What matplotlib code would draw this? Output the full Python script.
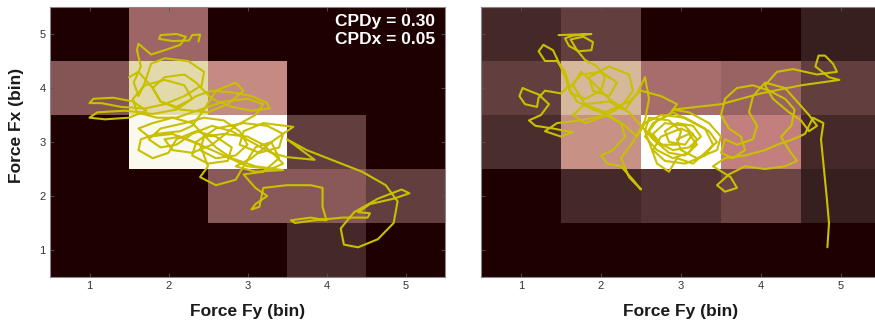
import numpy as np
import matplotlib
matplotlib.use("Agg")
import matplotlib.pyplot as plt

plt.rcParams['font.family'] = ['Liberation Sans', 'DejaVu Sans']

# bins
fy_bins = [1, 2, 3, 4, 5]
fx_bins = [1, 2, 3, 4, 5]

# occupancy (rows: Fx = 1..5, cols: Fy = 1..5), normalized
left_map = [
    [0.00, 0.00, 0.00, 0.04, 0.00],
    [0.00, 0.00, 0.18, 0.18, 0.09],
    [0.00, 0.93, 1.00, 0.09, 0.00],
    [0.17, 0.68, 0.40, 0.00, 0.00],
    [0.00, 0.24, 0.00, 0.00, 0.00],
]
right_map = [
    [0.00, 0.00, 0.00, 0.00, 0.00],
    [0.00, 0.04, 0.06, 0.11, 0.025],
    [0.05, 0.42, 1.00, 0.37, 0.04],
    [0.09, 0.55, 0.27, 0.23, 0.09],
    [0.04, 0.09, 0.00, 0.00, 0.025],
]

# trajectories (Fy, Fx) in bin units
left_fy = [2.38, 2.40, 2.30, 2.26, 2.05, 1.88, 1.90, 2.10, 2.22, 2.15, 1.95, 1.78, 1.62, 1.60, 1.65,
           1.56, 1.62, 1.70, 1.78, 1.95, 2.25, 2.45, 2.42, 2.20, 1.95, 1.70, 1.40, 1.15, 1.00, 1.05,
           1.30, 1.55, 1.72, 1.50, 1.20, 1.00, 1.10, 1.45, 1.80, 2.10, 2.35, 2.55, 2.80, 3.05, 3.25,
           3.28, 3.05, 2.80, 2.55, 2.35, 2.20, 1.95, 1.80, 1.90, 2.15, 2.50, 2.75, 2.95, 2.85, 2.60,
           2.45, 2.30, 2.15, 1.85, 1.65, 1.62, 1.80, 2.00, 2.10, 2.35, 2.60, 2.80, 2.75, 2.50, 2.30,
           2.35, 2.60, 2.95, 3.25, 3.45, 3.40, 3.15, 2.90, 2.95, 3.20, 3.58, 3.35, 3.05, 2.85, 3.10,
           3.45, 3.10, 2.80, 2.60, 2.30, 2.05, 1.80, 1.62, 1.75, 2.05, 2.40, 2.50, 2.40, 2.60, 2.85,
           2.95, 3.10, 3.30, 3.40, 3.20, 2.95, 3.10, 3.25, 3.10, 3.05, 3.15, 3.20, 3.50, 3.80, 3.95,
           3.95, 4.00, 3.80, 3.55, 3.60, 3.85, 4.20, 4.52, 4.55, 4.40, 4.55, 4.85, 5.05, 4.95, 4.65,
           4.35, 4.18, 4.22, 4.40, 4.65, 4.85, 4.90, 4.75, 4.45, 4.10, 3.75, 3.50, 3.85, 3.50,
           3.30, 3.05, 2.80, 2.55, 2.30, 2.10, 1.90, 1.75, 1.90, 2.20, 2.45, 2.70, 2.90, 3.00, 2.85,
           2.60, 2.40, 2.45, 2.70, 3.00, 3.20, 3.35, 3.45, 3.30, 3.00, 2.70, 2.40, 2.15, 1.95, 2.05,
           2.30, 2.55, 2.85, 3.10, 3.20, 3.00, 2.70, 2.40, 2.10, 1.85, 1.60, 1.55, 1.70, 1.95, 2.20,
           2.30, 2.10, 1.90, 1.80, 1.62, 1.50]
left_fx = [4.86, 4.99, 4.98, 4.88, 4.87, 4.91, 4.98, 5.00, 4.95, 4.80, 4.70, 4.62, 4.82, 4.70, 4.40,
           4.10, 3.85, 4.10, 4.45, 4.55, 4.50, 4.30, 4.05, 3.85, 3.70, 3.62, 3.65, 3.72, 3.72, 3.80,
           3.82, 3.75, 3.58, 3.45, 3.42, 3.45, 3.55, 3.58, 3.52, 3.60, 3.85, 3.95, 3.92, 3.85, 3.72,
           3.62, 3.58, 3.65, 3.80, 4.10, 4.25, 4.20, 4.00, 3.75, 3.60, 3.55, 3.70, 3.95, 4.10, 3.95,
           3.60, 3.30, 3.20, 3.15, 3.05, 2.85, 2.70, 2.80, 3.05, 3.20, 3.10, 2.90, 2.65, 2.60, 2.75,
           3.00, 3.25, 3.35, 3.30, 3.15, 2.90, 2.80, 2.95, 3.20, 3.35, 3.28, 3.05, 2.70, 2.55, 2.45,
           2.48, 2.55, 2.70, 2.90, 3.35, 3.45, 3.35, 3.25, 3.10, 3.15, 2.95, 2.55, 2.35, 2.20, 2.30,
           2.55, 2.90, 3.00, 2.70, 2.45, 2.40, 2.15, 2.00, 1.85, 1.75, 1.80, 2.15, 2.20, 2.20, 2.15,
           1.80, 1.55, 1.60, 1.55, 1.50, 1.55, 1.60, 1.60, 1.68, 1.70, 1.85, 1.95, 2.05, 2.12, 1.95,
           1.70, 1.40, 1.10, 1.05, 1.20, 1.50, 1.90, 2.20, 2.45, 2.65, 2.85, 3.05, 2.67, 2.72,
           2.80, 3.00, 3.20, 3.30, 3.15, 2.95, 2.90, 3.05, 3.25, 3.35, 3.45, 3.40, 3.20, 2.95, 2.75,
           2.70, 2.85, 3.10, 3.15, 3.10, 2.95, 2.75, 2.60, 2.50, 2.55, 2.75, 2.95, 3.10, 3.05, 2.85,
           2.80, 2.95, 3.30, 3.50, 3.70, 3.80, 3.75, 3.60, 3.45, 3.45, 3.55, 3.80, 4.05, 4.15, 4.05,
           3.80, 3.65, 3.75, 4.00, 4.30, 4.20]

right_fy_a = [1.47, 1.88, 1.65, 1.55, 1.60, 1.72, 1.88, 1.90, 1.78, 1.62, 1.70, 1.80, 1.95, 2.05, 2.00,
              1.80, 1.62, 1.55, 1.48, 1.40, 1.28, 1.22, 1.30, 1.45, 1.55, 1.60, 1.50, 1.30, 1.22, 1.20,
              1.05, 0.98, 1.02, 1.10, 1.22, 1.35, 1.25, 1.10, 1.18, 1.40, 1.65, 1.50, 1.30, 1.45, 1.75,
              2.05, 2.25, 2.30, 2.15, 2.00, 2.08, 2.25, 2.40, 2.50, 2.35, 2.25, 2.40, 2.55, 2.60, 2.55,
              2.45, 2.30, 2.10, 1.90, 1.75, 1.65, 1.80, 2.05, 2.35, 2.50, 2.75, 2.95, 2.85, 2.65, 2.55,
              2.70, 2.90, 3.10, 3.20, 3.05, 2.80, 2.65, 2.75, 2.95, 3.00, 2.85, 2.60, 2.55, 2.70, 2.85,
              2.95, 3.15, 3.30, 3.45, 3.35, 3.10, 2.90]
right_fx_a = [4.98, 5.00, 4.97, 4.92, 4.78, 4.68, 4.70, 4.85, 4.95, 4.90, 4.70, 4.52, 4.40, 4.20, 3.95,
              3.80, 3.90, 4.20, 4.45, 4.70, 4.80, 4.68, 4.50, 4.50, 4.30, 4.05, 3.90, 3.95, 3.82, 3.65,
              3.70, 3.85, 4.00, 3.95, 3.88, 3.70, 3.50, 3.40, 3.30, 3.25, 3.18, 3.10, 3.20, 3.35, 3.40,
              3.50, 3.35, 3.10, 2.85, 2.75, 2.60, 2.55, 2.30, 2.12, 2.35, 2.70, 3.00, 3.40, 3.80, 4.20,
              3.90, 3.60, 3.80, 4.10, 4.30, 4.05, 3.70, 3.55, 3.75, 3.95, 3.85, 3.70, 3.50, 3.35, 3.10,
              2.85, 2.70, 2.80, 3.05, 3.30, 3.35, 3.15, 2.95, 2.95, 3.20, 3.40, 3.45, 3.20, 2.60, 2.45,
              2.70, 2.60, 2.80, 3.00, 3.20, 3.40, 3.55]
right_fy_m = [2.70, 2.60, 2.70, 2.90, 3.10, 3.25, 3.15, 2.95, 2.80, 2.85, 3.05, 3.15, 3.00, 2.75, 2.65,
              2.80, 3.05, 3.30, 3.40, 3.30, 3.05, 2.75, 2.55, 2.45, 2.30, 2.10, 1.90, 1.70, 1.60, 1.75,
              2.00, 2.20, 2.10, 1.90, 1.85, 2.10, 2.35, 2.40, 2.25, 2.00, 1.80, 1.65, 1.80, 2.10, 2.35,
              2.50, 2.65, 2.85, 3.05, 3.20, 3.10, 2.95, 3.00, 3.20, 3.45, 3.50, 3.35, 3.10, 2.90]
right_fx_m = [3.40, 3.20, 3.00, 2.85, 2.90, 3.10, 3.30, 3.35, 3.20, 3.00, 2.95, 3.15, 3.25, 3.10, 2.85,
              2.65, 2.60, 2.75, 2.95, 3.25, 3.45, 3.50, 3.35, 3.10, 3.30, 3.50, 3.60, 3.75, 4.00, 4.25,
              4.30, 4.10, 3.85, 3.95, 4.20, 4.40, 4.25, 3.95, 3.65, 3.45, 3.35, 3.50, 3.70, 3.75, 3.55,
              3.30, 3.05, 2.80, 2.75, 2.95, 3.15, 3.05, 2.85, 2.70, 2.85, 3.10, 3.35, 3.55, 3.60]
right_fy_b = [3.50, 4.00, 4.50, 4.98, 4.85, 4.68, 4.72, 4.80,
              4.90, 4.95, 4.70, 4.40, 4.20, 4.05, 4.15, 4.35, 4.50, 4.60, 4.70, 4.60, 4.45, 4.30, 4.05,
              3.90, 3.85, 3.95, 3.90, 3.70, 3.55, 3.50, 3.65, 3.80, 3.75, 3.60, 3.50, 3.55, 3.70, 3.90,
              4.10, 4.30, 4.42, 4.38, 4.25, 4.35, 4.45, 4.30, 4.05, 3.80, 3.60, 3.45, 3.55, 3.70, 3.62,
              3.40, 3.55, 3.80, 4.05, 4.20, 4.40, 4.55, 4.65, 4.78, 4.75, 4.78, 4.82, 4.85, 4.83]
right_fx_b = [3.70, 3.90, 4.05, 4.15, 4.20, 4.40, 4.60, 4.60,
              4.45, 4.30, 4.25, 4.35, 4.30, 4.05, 3.80, 3.55, 3.40, 3.20, 3.30, 3.50, 3.75, 4.00, 4.10,
              3.85, 3.55, 3.30, 3.05, 2.95, 3.05, 2.80, 2.70, 2.85, 3.10, 3.25, 3.50, 3.80, 4.00, 4.05,
              3.95, 3.80, 3.60, 3.30, 3.10, 2.85, 2.65, 2.55, 2.50, 2.55, 2.40, 2.20, 2.08, 2.15, 2.35,
              2.55, 2.70, 2.75, 2.85, 2.95, 3.05, 3.15, 3.45, 3.35, 3.05, 2.60, 2.00, 1.50, 1.05]

right_fy = right_fy_a + right_fy_m + right_fy_b
right_fx = right_fx_a + right_fx_m + right_fx_b

cpd_text = "CPDy = 0.30\nCPDx = 0.05"
xlabel = "Force Fy (bin)"
ylabel = "Force Fx (bin)"

traj_color = "#c8c000"

fig = plt.figure(figsize=(8.75, 3.27), dpi=100)
ax1 = fig.add_axes([50/875, 50/327, 395/875, 270/327])
ax2 = fig.add_axes([481/875, 50/327, 400/875, 270/327])

for ax, m, tx, ty in [(ax1, left_map, left_fy, left_fx), (ax2, right_map, right_fy, right_fx)]:
    ax.imshow(np.array(m), cmap='pink', vmin=0, vmax=1, origin='lower',
              extent=[0.5, 5.5, 0.5, 5.5], aspect='auto', interpolation='nearest')
    ax.plot(tx, ty, color=traj_color, lw=1.5, solid_joinstyle='round', solid_capstyle='round')
    ax.set_xlim(0.5, 5.5)
    ax.set_ylim(0.5, 5.5)
    ax.set_xticks(fy_bins)
    ax.set_yticks(fx_bins)
    ax.tick_params(direction='in', length=3, width=0.6, top=True, right=True,
                   labelsize=8, labelcolor='#333333', color='#555555', pad=3)
    for s in ax.spines.values():
        s.set_color('#888888')
        s.set_linewidth(0.8)
    ax.set_xlabel(xlabel, fontsize=12.5, fontweight='bold', color='#1a1a1a', labelpad=9)

ax1.set_ylabel(ylabel, fontsize=12.5, fontweight='bold', color='#1a1a1a')
ax1.yaxis.set_label_coords(-0.066, 0.56)
ax2.tick_params(labelleft=False)

ax1.text(0.975, 0.975, cpd_text, transform=ax1.transAxes, ha='right', va='top',
         color='white', fontsize=12.5, fontweight='bold', linespacing=1.3)

fig.savefig("out.png", dpi=100)
